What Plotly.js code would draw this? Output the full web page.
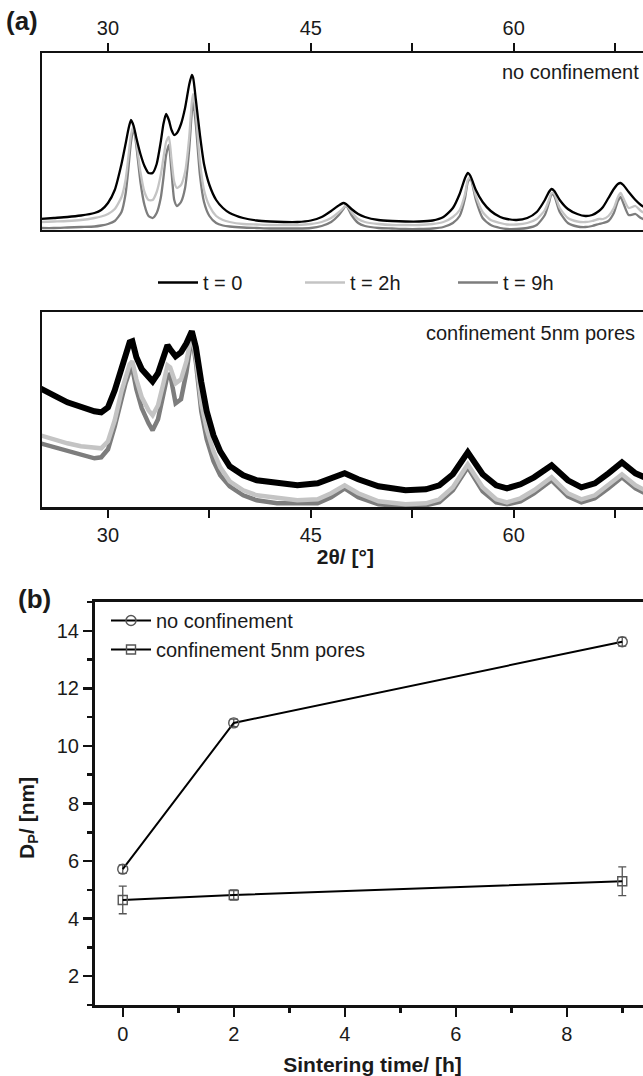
<!DOCTYPE html>
<html><head><meta charset="utf-8">
<script src="https://cdn.plot.ly/plotly-3.0.1.min.js"></script>
<style>html,body{margin:0;padding:0;overflow:hidden;background:#fff}</style>
</head><body><div id="chart" style="width:660px;height:1076px"></div>
<script>
// ---------- Panel (a), top: no confinement ----------
const twoThetaTop = [25,26,27,28,29,29.5,30,30.5,31,31.3,31.5,31.7,31.9,32.1,32.4,32.7,33.0,33.3,33.6,33.9,34.1,34.3,34.5,34.7,34.9,35.1,35.4,35.7,36.0,36.2,36.3,36.5,36.8,37.1,37.5,38,38.5,39,40,41,42,43,44,45,45.8,46.5,47.0,47.4,47.6,48.0,48.5,49,50,51,52,53,54,54.8,55.5,56.0,56.4,56.6,56.8,57.2,57.7,58.3,59,59.5,60.2,61,61.7,62.3,62.6,62.8,63.0,63.4,64,64.7,65.3,65.8,66.3,66.6,67.0,67.4,67.7,67.9,68.1,68.5,69.0,69.4,70];
const topT0 = [11,12,13,14.5,17,20,27,40,66,86,100,110,104,92,76,64,57,57,66,88,106,116,110,100,95,97,106,122,145,155,152,130,95,66,45,30,22,17,12,9.5,8.5,8,8,9.5,13,19,24,27,26,21,16,13,10,9,8.5,8.5,9.5,13,22,36,52,57,54,40,28,19,13,11,10,12,18,30,38,41,39,30,21,16,14,15,19,23,32,41,46,47,45,38,30,25,20];
const topT2 = [8,8.5,9,10,12,13.5,16,21,33,50,72,95,104,88,58,38,30,30,38,55,72,88,93,70,48,42,45,58,92,128,136,115,68,40,24,14,10,8,6,5.5,5,5,5,6,8,12,17,22,25,18,11,8,6,5,5,5,6,8,13,20,36,50,53,34,18,10,7,5.5,5.5,7,11,20,30,37,36,22,12,8.5,8,9,11,11,14,22,33,37,32,22,24,19,15];
const topT9 = [2,2,2.5,3,3.5,4.5,6,9,18,36,60,88,102,84,48,25,14,12,17,32,52,75,85,58,30,24,28,42,80,118,128,105,55,28,14,7,4.5,3.5,2.5,2,1.5,1.5,1.5,2,4,8,14,21,25,15,7,4,2,1.5,1,1,1.5,3,7,14,32,48,52,30,12,5,2,1,1,2,5,15,27,36,34,18,7,3.5,3,4,6,7,9,17,29,33,27,15,16,12,9];

// ---------- Panel (a), bottom: confinement 5nm pores ----------
const twoThetaBot = [25,25.5,26,27,28,29,29.5,30,30.5,31,31.3,31.6,31.8,32.1,32.5,33.0,33.3,33.7,34.1,34.4,34.6,35.0,35.4,35.8,36.2,36.5,36.9,37.3,37.8,38.3,39,40,41,42.5,44,45.5,46.5,47.5,48.5,50,52,53.5,54.5,55.5,56.6,57.7,58.7,59.5,60.5,61.5,62.8,64,65,66,67,68,69,70];
const botT0 = [119,116,112,105,100,96,95,100,117,140,152,165,166,150,138,129,126,134,150,162,158,151,155,164,176,160,125,96,72,56,41,32,27,24,22,24,29,34,28,21,17,18,22,33,55,33,22,19,23,30,42,27,20,24,34,45,34,28];
const botT2 = [72,70,67,64,61,59,59,66,87,116,130,143,146,128,110,97,92,102,124,142,140,124,128,146,174,150,104,78,56,40,26,17,12,9,7,8,14,22,14,6,3,4,8,20,43,20,8,5,9,17,30,14,8,12,22,33,22,15];
const botT9 = [64,62,61,57,52,49,50,58,81,110,124,136,139,118,99,84,77,88,112,132,133,104,108,135,172,145,96,68,46,32,21,12,7,4,4,4,10,19,10,3,1,2,5,17,40,16,5,3,6,14,27,11,5,9,19,30,19,12];

const seriesNames = ['t = 0', 't = 2h', 't = 9h'];
const seriesColors = ['#000000', '#c4c4c4', '#7d7d7d'];

// ---------- Panel (b) ----------
const sinterTime = [0, 2, 9];
const dpNoConf = [5.72, 10.8, 13.62];
const errNoConf = [0.15, 0.13, 0.15];
const dpConf = [4.65, 4.82, 5.3];
const errConf = [0.48, 0.18, 0.5];

const xMajorTicks = [30, 45, 60];
const xMinorTicks = [37.5, 52.5, 67.5];

const W = 660, H = 1076;
const px = v => v / W;
const py = v => 1 - v / H;
const FONT = 'Liberation Sans, Arial, sans-serif';
const TXT = '#1a1a1a';

const traces = [];
const topSets = [topT0, topT2, topT9];
const botSets = [botT0, botT2, botT9];
const legendIds = ['legend2', 'legend3', 'legend4'];
// draw dark gray first, black last (on top)
[2, 1, 0].forEach(i => {
  traces.push({
    x: twoThetaTop, y: topSets[i], type: 'scatter', mode: 'lines',
    name: seriesNames[i], legend: legendIds[i],
    line: {color: seriesColors[i], width: 2.3, shape: 'spline', smoothing: 0.6},
    xaxis: 'x', yaxis: 'y', hoverinfo: 'skip'
  });
});
[2, 1, 0].forEach(i => {
  traces.push({
    x: twoThetaBot, y: botSets[i], type: 'scatter', mode: 'lines',
    name: seriesNames[i], showlegend: false,
    line: {color: seriesColors[i], width: i === 0 ? 6 : 4.5, shape: 'linear'},
    xaxis: 'x2', yaxis: 'y2', hoverinfo: 'skip'
  });
});
traces.push({
  x: sinterTime, y: dpNoConf, type: 'scatter', mode: 'lines+markers',
  name: 'no confinement', legend: 'legend',
  error_y: {type: 'data', array: errNoConf, visible: true, color: '#555', thickness: 1.3, width: 4},
  line: {color: '#000', width: 2},
  marker: {symbol: 'circle-open', size: 10, color: '#555', line: {width: 1.4, color: '#555'}},
  xaxis: 'x3', yaxis: 'y3'
});
traces.push({
  x: sinterTime, y: dpConf, type: 'scatter', mode: 'lines+markers',
  name: 'confinement 5nm pores', legend: 'legend',
  error_y: {type: 'data', array: errConf, visible: true, color: '#555', thickness: 1.3, width: 4},
  line: {color: '#000', width: 2},
  marker: {symbol: 'square-open', size: 9, color: '#555', line: {width: 1.4, color: '#555'}},
  xaxis: 'x3', yaxis: 'y3'
});

const frame = {showline: true, linewidth: 2.2, linecolor: '#111', mirror: true, showgrid: false, zeroline: false};
const topTicks = {
  tickmode: 'array', tickvals: xMajorTicks,
  ticks: 'outside', ticklen: 8, tickwidth: 2, tickcolor: '#111',
  minor: {tickmode: 'array', tickvals: xMinorTicks, ticks: 'outside', ticklen: 8, tickwidth: 2, tickcolor: '#111', showgrid: false},
  tickfont: {size: 20, family: FONT, color: TXT}
};
const legendBase = {
  xanchor: 'left', yanchor: 'top', bgcolor: 'rgba(0,0,0,0)', borderwidth: 0,
  font: {size: 20, family: FONT, color: TXT}, itemwidth: 40
};

const layout = {
  width: W, height: H,
  margin: {l: 0, r: 0, t: 0, b: 0},
  paper_bgcolor: '#fff', plot_bgcolor: '#fff',
  font: {family: FONT, size: 20, color: TXT},
  showlegend: true,
  xaxis: Object.assign({}, frame, topTicks, {
    domain: [px(41.7), px(649)], range: [25.1, 70], side: 'top', anchor: 'y'
  }),
  yaxis: Object.assign({}, frame, {
    domain: [py(230), py(53)], range: [0, 177], anchor: 'x',
    showticklabels: false, ticks: ''
  }),
  xaxis2: Object.assign({}, frame, topTicks, {
    domain: [px(41.7), px(649)], range: [25.1, 70], side: 'bottom', anchor: 'y2',
    title: {text: '<b>2θ/ [°]</b>', font: {size: 21, family: FONT, color: TXT}, standoff: 3}
  }),
  yaxis2: Object.assign({}, frame, {
    domain: [py(507.3), py(311.7)], range: [0, 195.6], anchor: 'x2',
    showticklabels: false, ticks: ''
  }),
  xaxis3: {
    domain: [px(95), px(650)], range: [-0.5, 9.5], anchor: 'y3',
    showline: true, linewidth: 3, linecolor: '#111', mirror: true, showgrid: false, zeroline: false,
    tickmode: 'linear', tick0: 0, dtick: 2,
    ticks: 'outside', ticklen: 9, tickwidth: 2.5, tickcolor: '#111',
    minor: {tickmode: 'linear', tick0: 0, dtick: 1, ticks: 'outside', ticklen: 5, tickwidth: 2.5, tickcolor: '#111', showgrid: false},
    tickfont: {size: 20, family: FONT, color: TXT},
    title: {text: '<b>Sintering time/ [h]</b>', font: {size: 21, family: FONT, color: TXT}, standoff: 15}
  },
  yaxis3: {
    domain: [py(1005), py(602)], range: [1, 15], anchor: 'x3',
    showline: true, linewidth: 3, linecolor: '#111', mirror: true, showgrid: false, zeroline: false,
    tickmode: 'linear', tick0: 2, dtick: 2,
    ticks: 'outside', ticklen: 9, tickwidth: 2.5, tickcolor: '#111',
    minor: {tickmode: 'linear', tick0: 1, dtick: 1, ticks: 'outside', ticklen: 5, tickwidth: 2.5, tickcolor: '#111', showgrid: false},
    tickfont: {size: 20, family: FONT, color: TXT}
  },
  legend: Object.assign({}, legendBase, {x: px(106), y: py(601), tracegroupgap: 0}),
  legend2: Object.assign({}, legendBase, {x: px(153), y: py(263)}),
  legend3: Object.assign({}, legendBase, {x: px(300), y: py(263)}),
  legend4: Object.assign({}, legendBase, {x: px(453), y: py(263)}),
  annotations: [
    {text: '<b>(a)</b>', xref: 'paper', yref: 'paper', x: px(4), y: py(4), xanchor: 'left', yanchor: 'top',
     showarrow: false, font: {size: 26, family: FONT, color: TXT}},
    {text: '<b>(b)</b>', xref: 'paper', yref: 'paper', x: px(16), y: py(582), xanchor: 'left', yanchor: 'top',
     showarrow: false, font: {size: 26, family: FONT, color: TXT}},
    {text: 'no confinement', xref: 'paper', yref: 'paper', x: px(641), y: py(72), xanchor: 'right', yanchor: 'middle',
     showarrow: false, font: {size: 20, family: FONT, color: TXT}},
    {text: 'confinement 5nm pores', xref: 'paper', yref: 'paper', x: px(637), y: py(333), xanchor: 'right', yanchor: 'middle',
     showarrow: false, font: {size: 20, family: FONT, color: TXT}},
    {text: '<b>D<sub>P</sub>/ [nm]</b>', xref: 'paper', yref: 'paper', x: px(28), y: py(818), xanchor: 'center', yanchor: 'middle',
     textangle: -90, showarrow: false, font: {size: 21, family: FONT, color: TXT}}
  ]
};

Plotly.newPlot('chart', traces, layout, {displayModeBar: false, staticPlot: true});
</script></body></html>
